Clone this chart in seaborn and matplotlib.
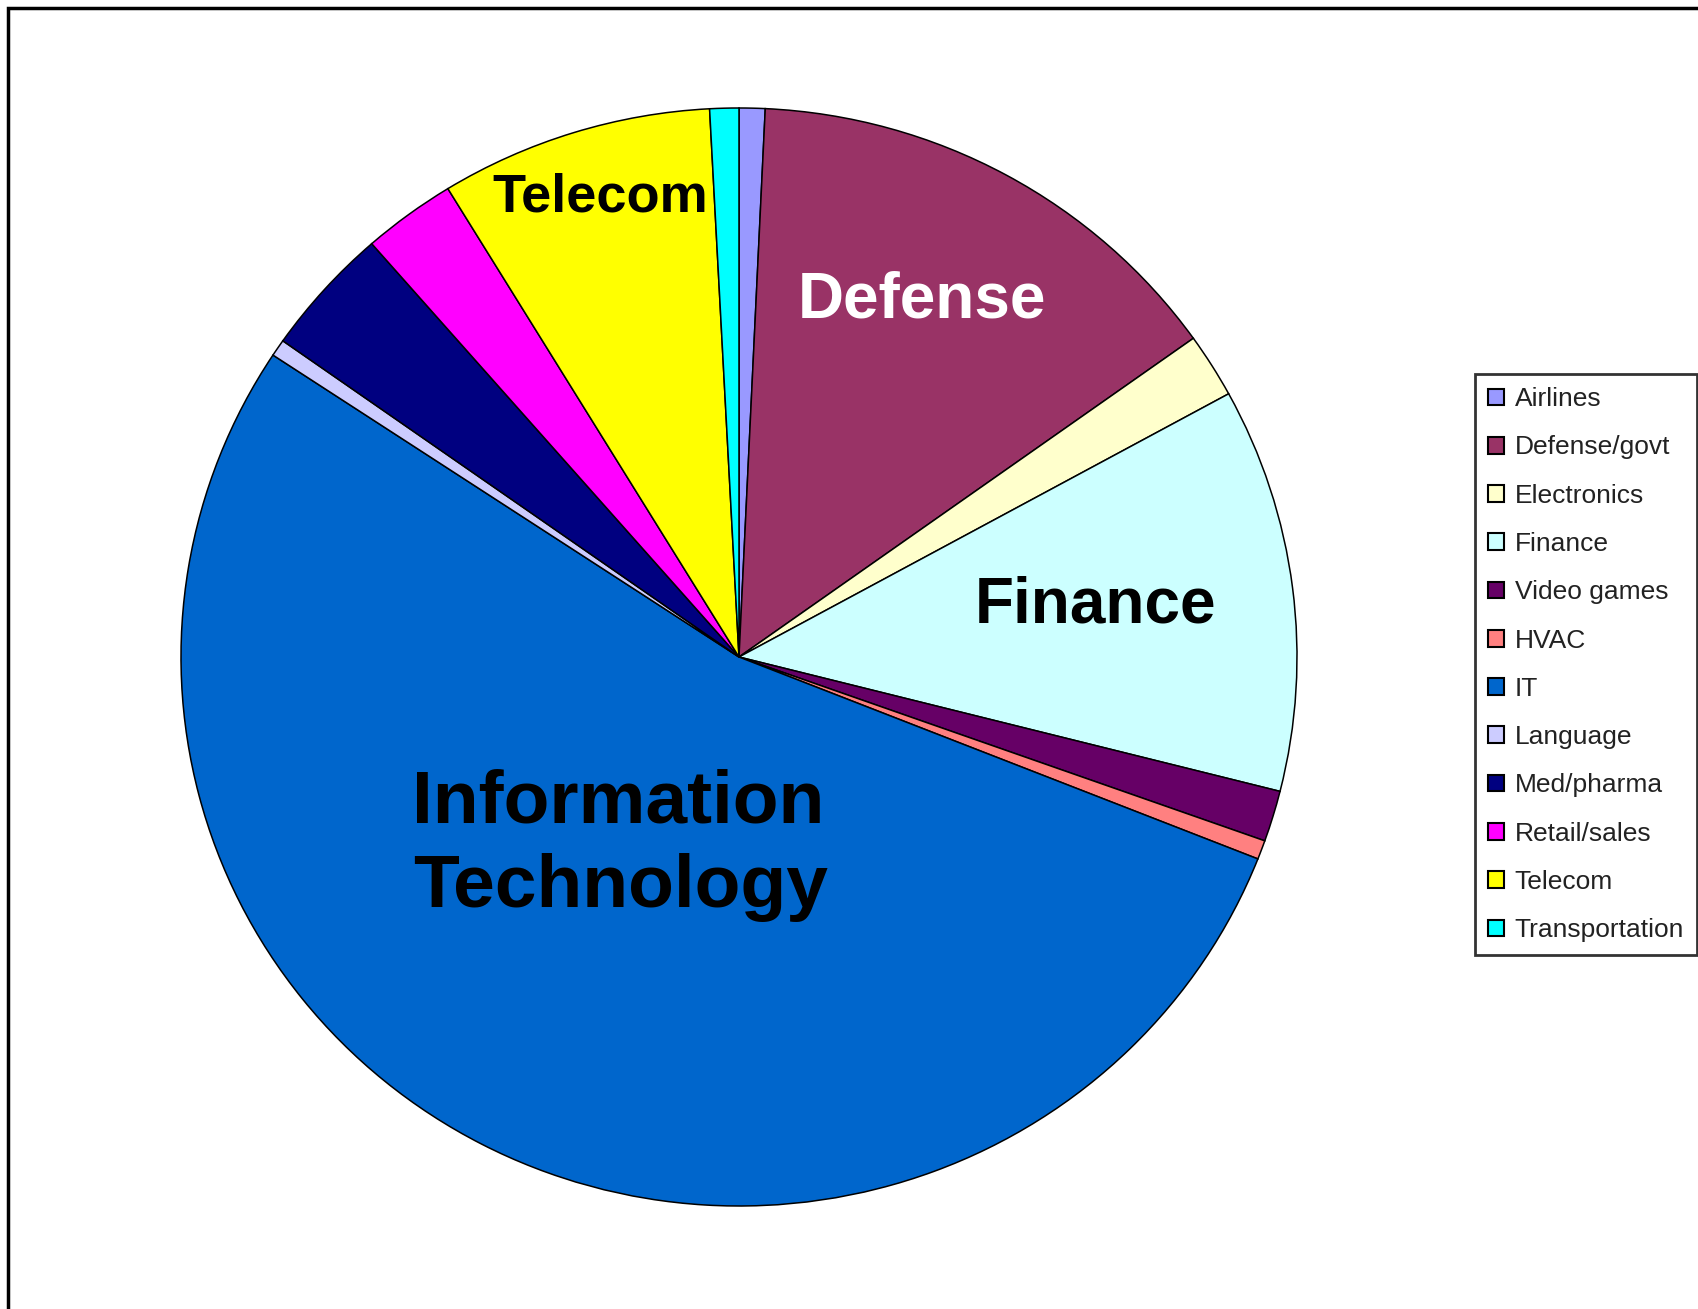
import matplotlib
matplotlib.use("Agg")
import matplotlib.pyplot as plt
from matplotlib.patches import Patch, Rectangle
import seaborn as sns

sns.set_theme(style="white")
plt.rcParams["font.family"] = ["Liberation Sans", "DejaVu Sans"]

# Industry share of respondents (percent)
industries = ["Airlines", "Defense/govt", "Electronics", "Finance", "Video games",
              "HVAC", "IT", "Language", "Med/pharma", "Retail/sales", "Telecom",
              "Transportation"]
shares = [0.75, 14.4, 1.9, 11.9, 1.5, 0.56, 53.3, 0.5, 3.8, 2.7, 7.9, 0.84]
colors = ["#9999FF", "#993366", "#FFFFCC", "#CCFFFF", "#660066", "#FF8080",
          "#0066CC", "#CCCCFF", "#000080", "#FF00FF", "#FFFF00", "#00FFFF"]

W, H = 1698, 1309
fig = plt.figure(figsize=(W / 100, H / 100), dpi=100)
fig.patch.set_facecolor("white")

# Chart-area border
fig.patches.append(Rectangle((8 / W, -0.2), 1.2, 1.2 - 8 / H,
                             transform=fig.transFigure, fill=False,
                             edgecolor="black", linewidth=2.5, zorder=0))

# Pie axes: x spans 181..1297 px, y spans 108..1206 px
left, right, top, bottom = 181, 1297, 108, 1206
ax = fig.add_axes([left / W, (H - bottom) / H, (right - left) / W, (bottom - top) / H])
ax.pie(shares, colors=colors, startangle=90, counterclock=False, radius=1.0,
       wedgeprops=dict(edgecolor="black", linewidth=1.1))
ax.set_aspect("auto")
ax.set_xlim(-1, 1)
ax.set_ylim(-1, 1)
ax.axis("off")

# Slice annotations
ax.text(-0.249, 0.811, "Telecom", ha="center", va="baseline",
        fontsize=39, fontweight="bold", color="black")
ax.text(0.328, 0.619, "Defense", ha="center", va="baseline",
        fontsize=46, fontweight="bold", color="white")
ax.text(0.638, 0.062, "Finance", ha="center", va="baseline",
        fontsize=46, fontweight="bold", color="black")
ax.text(-0.217, -0.302, "Information", ha="center", va="baseline",
        fontsize=54, fontweight="bold", color="black")
ax.text(-0.213, -0.455, "Technology", ha="center", va="baseline",
        fontsize=54, fontweight="bold", color="black")

# Legend
handles = [Patch(facecolor=c, edgecolor="black", linewidth=1.5) for c in colors]
leg = fig.legend(handles, industries, loc="upper left",
                 bbox_to_anchor=(1475 / W, 1 - 374 / H), borderaxespad=0,
                 fontsize=19, frameon=True, fancybox=False, labelspacing=0.92,
                 handlelength=0.6, handleheight=0.6, handletextpad=0.4,
                 borderpad=0.5, labelcolor="#222222")
leg.get_frame().set_edgecolor("black")
leg.get_frame().set_linewidth(2)

fig.savefig("out.png", dpi=100, facecolor="white")
